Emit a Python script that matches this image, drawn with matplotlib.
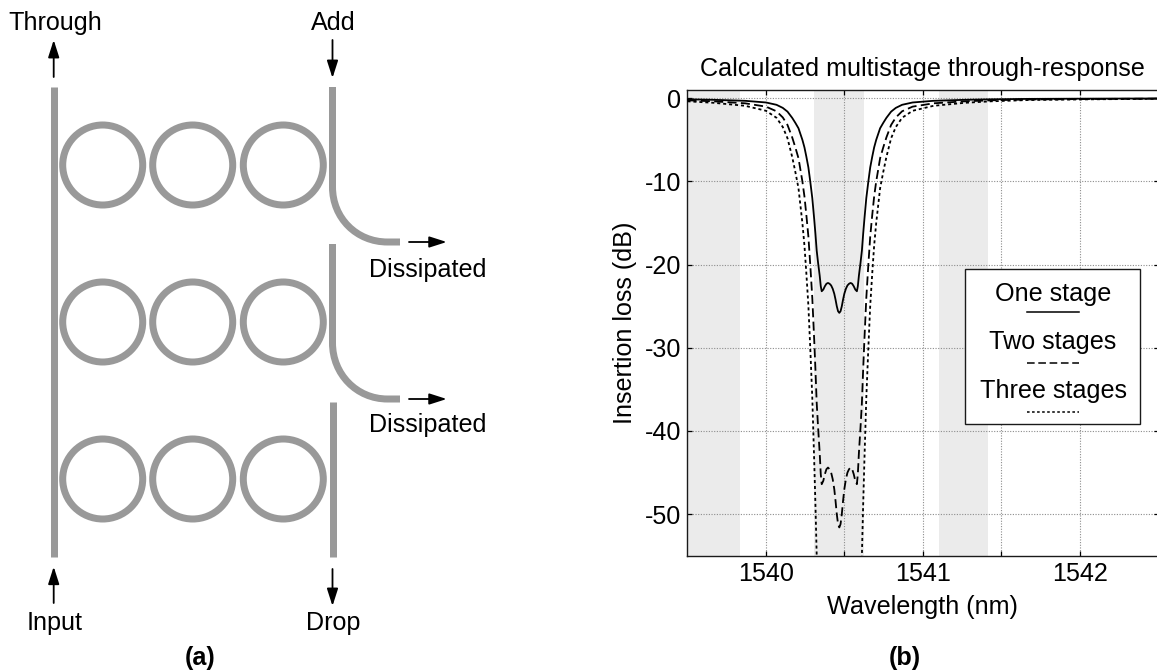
#!/usr/bin/env python3

import matplotlib
matplotlib.use('Agg')
import matplotlib.pyplot as plt
from matplotlib.patches import Circle, PathPatch, Rectangle
from matplotlib.path import Path

plt.rcParams['font.family'] = ['Liberation Sans', 'DejaVu Sans']
plt.rcParams['axes.unicode_minus'] = False

# DATA

wavelength = [
    1539.500, 1539.667, 1539.867, 1540.000, 1540.067, 1540.107, 1540.137,
    1540.167, 1540.187, 1540.207, 1540.232, 1540.245, 1540.257, 1540.270,
    1540.282, 1540.295, 1540.307, 1540.315, 1540.323, 1540.332, 1540.342,
    1540.349, 1540.355, 1540.365, 1540.375, 1540.385, 1540.395, 1540.405,
    1540.415, 1540.425, 1540.435, 1540.443, 1540.451, 1540.459, 1540.467,
    1540.475, 1540.483, 1540.491, 1540.499, 1540.509, 1540.519, 1540.529,
    1540.539, 1540.549, 1540.559, 1540.569, 1540.579, 1540.585, 1540.592,
    1540.602, 1540.611, 1540.619, 1540.627, 1540.639, 1540.652, 1540.664,
    1540.677, 1540.689, 1540.702, 1540.727, 1540.747, 1540.767, 1540.797,
    1540.827, 1540.867, 1540.934, 1541.067, 1541.267, 1541.434, 1541.667,
    1542.067, 1542.497]

one_stage = [
    -0.12, -0.18, -0.30, -0.50, -0.78, -1.15, -1.60,
    -2.35, -2.95, -3.60, -5.00, -5.90, -7.00, -8.30,
    -10.0, -12.0, -14.5, -16.3, -18.3, -19.8, -21.3,
    -22.6, -23.2, -23.0, -22.6, -22.3, -22.2, -22.3,
    -22.5, -22.9, -23.5, -24.2, -25.0, -25.6, -25.8,
    -25.6, -25.0, -24.2, -23.5, -22.9, -22.5, -22.3,
    -22.2, -22.3, -22.6, -23.0, -23.2, -22.6, -21.3,
    -19.8, -18.3, -16.3, -14.5, -12.0, -10.0, -8.30,
    -7.00, -5.90, -5.00, -3.60, -2.95, -2.35, -1.60,
    -1.15, -0.78, -0.50, -0.30, -0.18, -0.12, -0.07,
    -0.04, -0.02]

two_stages = [
    -0.24, -0.36, -0.60, -1.00, -1.56, -2.30, -3.20,
    -4.70, -5.90, -7.20, -10.0, -11.8, -14.0, -16.6,
    -20.0, -24.0, -29.0, -32.6, -36.6, -39.6, -42.6,
    -45.2, -46.4, -46.0, -45.2, -44.6, -44.4, -44.6,
    -45.0, -45.8, -47.0, -48.4, -50.0, -51.2, -51.6,
    -51.2, -50.0, -48.4, -47.0, -45.8, -45.0, -44.6,
    -44.4, -44.6, -45.2, -46.0, -46.4, -45.2, -42.6,
    -39.6, -36.6, -32.6, -29.0, -24.0, -20.0, -16.6,
    -14.0, -11.8, -10.0, -7.20, -5.90, -4.70, -3.20,
    -2.30, -1.56, -1.00, -0.60, -0.36, -0.24, -0.14,
    -0.08, -0.04]

three_stages = [
    -0.36, -0.54, -0.90, -1.50, -2.34, -3.45, -4.80,
    -7.05, -8.85, -10.8, -15.0, -17.7, -21.0, -24.9,
    -30.0, -36.0, -43.5, -48.9, -54.9, -59.4, -63.9,
    -67.8, -69.6, -69.0, -67.8, -66.9, -66.6, -66.9,
    -67.5, -68.7, -70.5, -72.6, -75.0, -76.8, -77.4,
    -76.8, -75.0, -72.6, -70.5, -68.7, -67.5, -66.9,
    -66.6, -66.9, -67.8, -69.0, -69.6, -67.8, -63.9,
    -59.4, -54.9, -48.9, -43.5, -36.0, -30.0, -24.9,
    -21.0, -17.7, -15.0, -10.8, -8.85, -7.05, -4.80,
    -3.45, -2.34, -1.50, -0.90, -0.54, -0.36, -0.21,
    -0.12, -0.06]

bands = [(1539.50, 1539.833), (1540.307, 1540.624), (1541.10, 1541.414)]
legend_labels = ['One stage', 'Two stages', 'Three stages']

# LAYOUT, in pixels of the 1157x671 picture

W, H = 1157, 671
FS = 18.1
GRAY = '#999999'
ax_left, ax_right, ax_top, ax_bottom = 687, 1158.5, 90, 555.7
solid = '-'
dashed = (0, (5.0, 2.4))
dotted = (0, (1.7, 1.6))

fig = plt.figure(figsize=(W / 100, H / 100), dpi=100)

# (b) the response
ax = fig.add_axes([ax_left / W, 1 - ax_bottom / H,
                   (ax_right - ax_left) / W, (ax_bottom - ax_top) / H])
for lo, hi in bands:
    ax.axvspan(lo, hi, color='#ebebeb', lw=0, zorder=0)
ax.plot(wavelength, one_stage, color='k', lw=1.3, ls=solid, zorder=3)
ax.plot(wavelength, two_stages, color='k', lw=1.3, ls=dashed, zorder=3)
ax.plot(wavelength, three_stages, color='k', lw=1.3, ls=dotted, zorder=3)
ax.set_xlim(1539.497, 1542.5)
ax.set_ylim(-55, 1)
ax.set_xticks([1540, 1541, 1542])
ax.set_xticks([1540.5, 1541.5], minor=True)
ax.set_yticks([0, -10, -20, -30, -40, -50])
ax.tick_params(which='both', direction='in', top=True, right=True, length=3.6,
               width=0.9, labelsize=FS, pad=4.5)
ax.grid(True, which='both', color='#8c8c8c', lw=0.8, ls=(0, (1, 1.4)), zorder=1)
ax.set_axisbelow(True)
for s in ax.spines.values():
    s.set_linewidth(1.0)
    s.set_color('#1a1a1a')
ax.set_title('Calculated multistage through-response', fontsize=FS, pad=10)
ax.set_xlabel('Wavelength (nm)', fontsize=FS, labelpad=6.8)
ax.set_ylabel('Insertion loss (dB)', fontsize=FS, labelpad=5.5)

# overlay in picture pixels, for the ring diagram and the legend box
ov = fig.add_axes([0, 0, 1, 1], zorder=5)
ov.set_xlim(0, W)
ov.set_ylim(H, 0)
ov.axis('off')
ov.patch.set_alpha(0)

# legend
ov.add_patch(Rectangle((965, 269), 175, 154.7, fc='w', ec='#1a1a1a', lw=1.0))
for label, base, ly, style in zip(legend_labels, [301, 349, 398], [312, 363, 412],
                                  [solid, dashed, dotted]):
    ov.text(1053, base, label, fontsize=FS, ha='center', va='baseline')
    ov.plot([1027, 1079], [ly, ly], color='k', lw=1.1, ls=style)

# (a) the rings
ring_x = [102.7, 192.7, 283.3]
ring_y = [165, 322, 479]
left_bus = 53.7
right_bus = 332.5
lw_wg = 5.04
for y in ring_y:
    for x in ring_x:
        ov.add_patch(Circle((x, y), 40, fc='none', ec=GRAY, lw=lw_wg))
ov.plot([left_bus, left_bus], [87, 556.7], color=GRAY, lw=lw_wg, solid_capstyle='butt')
ov.plot([right_bus, right_bus], [401.7, 556.7], color=GRAY, lw=lw_wg, solid_capstyle='butt')

# upper two add/drop guides bend away towards the dissipated port
for top, start, end in [(87, 187, 242), (244, 343, 399)]:
    verts = [(right_bus, top), (right_bus, start),
             (right_bus, start + 31), (right_bus + 24, end), (right_bus + 55, end),
             (400, end)]
    codes = [Path.MOVETO, Path.LINETO, Path.CURVE4, Path.CURVE4, Path.CURVE4, Path.LINETO]
    ov.add_patch(PathPatch(Path(verts, codes), fc='none', ec=GRAY, lw=lw_wg,
                           capstyle='butt', joinstyle='round'))


def arrow(x0, y0, x1, y1):
    ov.annotate('', xy=(x1, y1), xytext=(x0, y0),
                arrowprops=dict(arrowstyle='-|>,head_length=0.75,head_width=0.24',
                                mutation_scale=14, lw=1.3, color='k',
                                shrinkA=0, shrinkB=0))


arrow(left_bus, 77, left_bus, 40)
arrow(right_bus, 40, right_bus, 78)
arrow(left_bus, 603, left_bus, 566.7)
arrow(right_bus, 569, right_bus, 606)
arrow(409, 242, 446.7, 242)
arrow(409, 399, 446.7, 399)

ov.text(55, 30, 'Through', fontsize=FS, ha='center', va='baseline')
ov.text(333, 30, 'Add', fontsize=FS, ha='center', va='baseline')
ov.text(55, 630, 'Input', fontsize=FS, ha='center', va='baseline')
ov.text(333, 630, 'Drop', fontsize=FS, ha='center', va='baseline')
ov.text(428, 277, 'Dissipated', fontsize=FS, ha='center', va='baseline')
ov.text(428, 432, 'Dissipated', fontsize=FS, ha='center', va='baseline')
ov.text(200, 665, '(a)', fontsize=FS, fontweight='bold', ha='center', va='baseline')
ov.text(905, 665, '(b)', fontsize=FS, fontweight='bold', ha='center', va='baseline')

fig.savefig('out.png', dpi=100)
